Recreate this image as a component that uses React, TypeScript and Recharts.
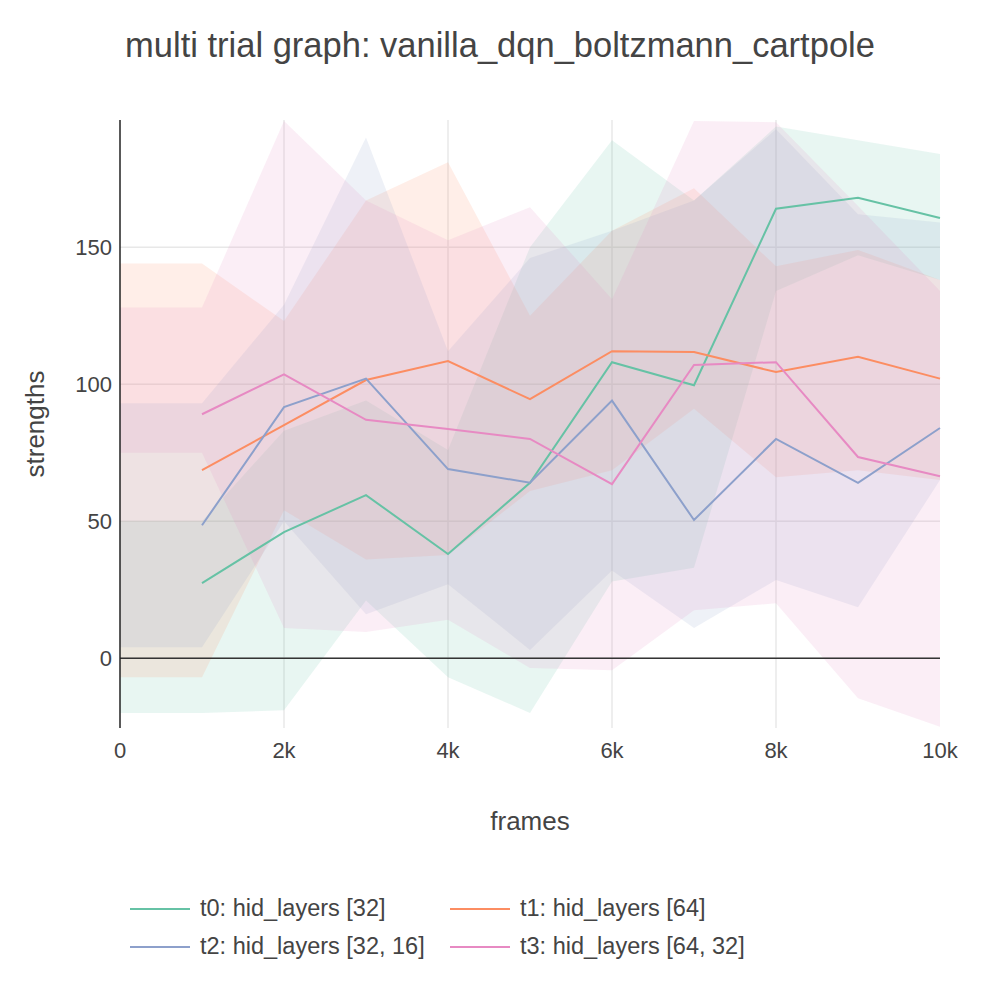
import React from "react";
import { ComposedChart, Area, Line, XAxis, YAxis, CartesianGrid, ReferenceLine } from "recharts";

const frames = [0, 1000, 2000, 3000, 4000, 5000, 6000, 7000, 8000, 9000, 10000];
const names = ["t0: hid_layers [32]", "t1: hid_layers [64]", "t2: hid_layers [32, 16]", "t3: hid_layers [64, 32]"];
const colors = ["#66c2a5", "#fc8d62", "#8da0cb", "#e78ac3"];

const means = [
  [null, 27.4, 46, 59.5, 38, 64, 108, 99.6, 164, 168, 160.6],
  [null, 68.6, 85, 101.5, 108.4, 94.5, 112, 111.7, 104.4, 110, 102],
  [null, 48.5, 91.6, 102, 69, 64, 94, 50.4, 80, 64, 84],
  [null, 89, 103.6, 87, 83.6, 80, 63.5, 107, 108, 73.4, 66.4],
];
const uppers = [
  [50, 50, 83, 94, 76, 150, 189, 167, 194, 189, 184],
  [144, 144, 123, 167, 181, 125, 156, 171.5, 143, 149, 138],
  [93, 93, 129, 190, 112, 146, 156, 167, 193, 162, 159],
  [128, 128, 196, 167, 152.5, 164.6, 131, 196, 195.6, 165, 134],
];
const lowers = [
  [-20, -20, -19, 21, -7, -20, 28, 33, 134, 147, 138],
  [-7, -7, 54, 36, 37.6, 61, 68.6, 91, 66, 68.6, 65],
  [4, 4, 50, 16, 27, 3, 32, 11, 28.5, 18.6, 65],
  [75, 75, 11, 9.5, 14, -3.6, -4.4, 17.5, 20, -14.6, -25],
];

const data = frames.map((f, i) => {
  const row: any = { f };
  for (let s = 0; s < 4; s++) {
    row["m" + s] = means[s][i];
    row["b" + s] = [lowers[s][i], uppers[s][i]];
  }
  return row;
});

const tickStyle = { fill: "#444", fontSize: 22, fontFamily: "Liberation Sans, Arial" };

export default function App() {
  return (
    <div style={{ position: "absolute", left: 0, top: 0, width: 1000, height: 1000, background: "#fff", fontFamily: "Liberation Sans, Arial", color: "#444" }}>
      <div style={{ position: "absolute", top: 26, width: 1000, textAlign: "center", fontSize: 34.5 }}>
        multi trial graph: vanilla_dqn_boltzmann_cartpole
      </div>
      <ComposedChart width={1000} height={1000} data={data} margin={{ top: 120, left: 60, right: 60, bottom: 212 }}>
        <CartesianGrid stroke="#e8e8e8" strokeWidth={1.5} horizontalValues={[0, 50, 100, 150]}
          verticalValues={[2000, 4000, 6000, 8000]} />
        <XAxis dataKey="f" type="number" domain={[0, 10000]} ticks={[0, 2000, 4000, 6000, 8000, 10000]}
          tickFormatter={(v) => (v === 0 ? "0" : v / 1000 + "k")} height={60} axisLine={false} tickLine={false}
          tick={tickStyle} tickMargin={8} />
        <YAxis type="number" domain={[-25.5, 196.4]} ticks={[0, 50, 100, 150]} width={60} allowDataOverflow
          axisLine={{ stroke: "#222", strokeWidth: 1.5 }} tickLine={false} tick={tickStyle} tickMargin={2} />
        <ReferenceLine y={0} stroke="#333" strokeWidth={1.5} />
        {colors.map((c, s) => (
          <Area key={"b" + s} dataKey={"b" + s} type="linear" stroke="none" fill={c} fillOpacity={0.15} isAnimationActive={false} />
        ))}
        {colors.map((c, s) => (
          <Line key={"m" + s} dataKey={"m" + s} type="linear" stroke={c} strokeWidth={2} dot={false} isAnimationActive={false} />
        ))}
      </ComposedChart>
      <div style={{ position: "absolute", left: 35, top: 424, transform: "translate(-50%,-50%) rotate(-90deg)", fontSize: 26 }}>strengths</div>
      <div style={{ position: "absolute", top: 806, width: 1060, textAlign: "center", fontSize: 26 }}>frames</div>
      {names.map((n, i) => (
        <div key={n} style={{ position: "absolute", left: i % 2 === 0 ? 130 : 450, top: i < 2 ? 895 : 933, display: "flex", alignItems: "center", fontSize: 23.5 }}>
          <div style={{ width: 60, height: 2, background: colors[i], marginRight: 10 }} />
          {n}
        </div>
      ))}
    </div>
  );
}
